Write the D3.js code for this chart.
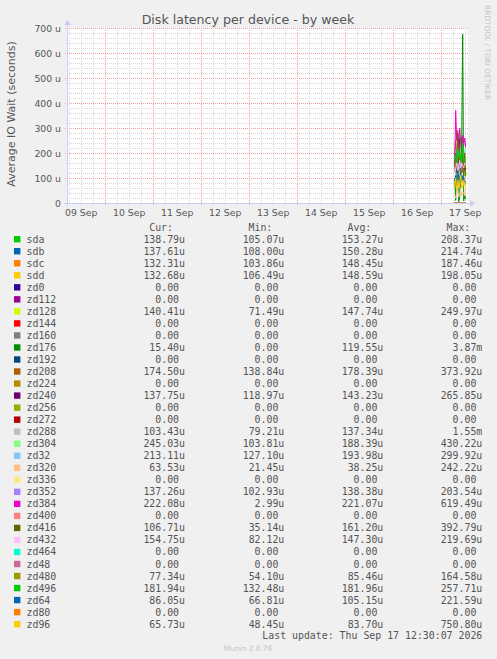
<!doctype html>
<html>
<head>
<meta charset="UTF-8">
<title>Disk latency per device - by week</title>
<style>
  body { margin: 0; background: #f0f0f0; }
  svg text { fill: #555; }
  .mono { font-family: "DejaVu Sans Mono", monospace; font-size: 9.9px; }
  .sans { font-family: "DejaVu Sans", sans-serif; }
</style>
<script src="https://d3js.org/d3.v7.min.js"></script>
</head>
<body>
<svg id="chart" width="497" height="659"></svg>
<script>
// device names in legend order
var devices = ["sda","sdb","sdc","sdd","zd0","zd112","zd128","zd144","zd160","zd176","zd192",
  "zd208","zd224","zd240","zd256","zd272","zd288","zd304","zd32","zd320","zd336","zd352",
  "zd384","zd400","zd416","zd432","zd464","zd48","zd480","zd496","zd64","zd80","zd96"];

// munin palette (wraps after 29)
var colours = ["#00CC00","#0066B3","#FF8000","#FFCC00","#330099","#990099","#CCFF00","#FF0000",
  "#808080","#008F00","#00487D","#B35A00","#B38F00","#6B006B","#8FB300","#B30000","#BEBEBE",
  "#80FF80","#80C9FF","#FFC080","#FFE680","#AA80FF","#EE00CC","#FF8080","#666600","#FFBFFF",
  "#00FFCC","#CC6699","#999900"];

// legend statistics as printed
var curVals = ["138.79u","137.61u","132.31u","132.68u","0.00","0.00","140.41u","0.00","0.00","15.40u","0.00",
  "174.50u","0.00","137.75u","0.00","0.00","103.43u","245.03u","213.11u","63.53u","0.00","137.26u",
  "222.08u","0.00","106.71u","154.75u","0.00","0.00","77.34u","181.94u","86.05u","0.00","65.73u"];
var minVals = ["105.07u","108.00u","103.86u","106.49u","0.00","0.00","71.49u","0.00","0.00","0.00","0.00",
  "138.84u","0.00","118.97u","0.00","0.00","79.21u","103.81u","127.10u","21.45u","0.00","102.93u",
  "2.99u","0.00","35.14u","82.12u","0.00","0.00","54.10u","132.48u","66.81u","0.00","48.45u"];
var avgVals = ["153.27u","150.28u","148.45u","148.59u","0.00","0.00","147.74u","0.00","0.00","119.55u","0.00",
  "178.39u","0.00","143.23u","0.00","0.00","137.34u","188.39u","193.98u","38.25u","0.00","138.38u",
  "221.07u","0.00","161.20u","147.30u","0.00","0.00","85.46u","181.96u","105.15u","0.00","83.70u"];
var maxVals = ["208.37u","214.74u","187.46u","198.05u","0.00","0.00","249.97u","0.00","0.00","3.87m","0.00",
  "373.92u","0.00","265.85u","0.00","0.00","1.55m","430.22u","299.92u","242.22u","0.00","203.54u",
  "619.49u","0.00","392.79u","219.69u","0.00","0.00","164.58u","257.71u","221.59u","0.00","750.80u"];

// plotted 30-minute samples on 17 Sep, 07:00 .. 12:30 (microseconds)
var sampleHours = [7,7.5,8,8.5,9,9.5,10,10.5,11,11.5,12,12.5];
var series = {
  sda:   [150,180,120,200,160,140,130,170,190,150,110,138.79],
  sdb:   [140,120,160,190,150,130,170,140,200,120,160,137.61],
  sdc:   [130,150,110,170,140,180,120,160,150,130,140,132.31],
  sdd:   [140,170,120,150,190,130,160,120,150,140,170,132.68],
  zd128: [120,200,90,160,240,130,110,180,150,100,140,140.41],
  zd176: [100,10,200,150,5,20,180,250,675,8,30,15.40],
  zd208: [190,250,170,290,200,160,180,240,150,200,170,174.50],
  zd240: [150,130,200,140,170,260,130,120,140,150,130,137.75],
  zd288: [110,100,160,130,90,200,120,150,140,110,95,103.43],
  zd304: [180,200,150,220,190,170,230,160,210,180,200,245.03],
  zd32:  [190,210,170,230,180,200,250,190,220,170,200,213.11],
  zd320: [30,20,40,60,25,35,50,30,45,40,30,63.53],
  zd352: [140,120,160,110,150,130,120,140,150,130,125,137.26],
  zd384: [160,370,250,280,210,300,240,200,270,230,260,222.08],
  zd416: [150,200,120,280,240,180,100,260,140,110,200,106.71],
  zd432: [120,140,160,130,150,170,140,160,150,140,160,154.75],
  zd480: [80,60,100,70,90,110,60,80,100,70,90,77.34],
  zd496: [170,190,160,220,180,200,170,190,240,160,180,181.94],
  zd64:  [90,110,70,130,100,80,120,90,110,100,80,86.05],
  zd96:  [70,100,50,90,60,80,110,70,60,90,80,65.73]
};
var yTicks = [0,100,200,300,400,500,600,700];
var dayLabels = ["09 Sep","10 Sep","11 Sep","12 Sep","13 Sep","14 Sep","15 Sep","16 Sep","17 Sep"];

var svg = d3.select("#chart");
var plotL = 67, plotR = 467, plotT = 28, plotB = 203;

var x = d3.scaleTime()
  .domain([new Date(2026,8,9,5,9), new Date(2026,8,17,13,9)])
  .range([plotL, plotR]);
var y = d3.scaleLinear().domain([0,700]).range([plotB, plotT]);

// canvas
svg.append("rect").attr("x", plotL).attr("y", plotT)
  .attr("width", plotR - plotL + 1).attr("height", plotB - plotT).attr("fill", "#fff");

// minor grid
var gGrid = svg.append("g");
d3.range(0, 701, 20).forEach(function(v) {
  if (v % 100 === 0) return;
  gGrid.append("line").attr("x1", plotL).attr("x2", plotR + 1)
    .attr("y1", Math.round(y(v)) + 0.5).attr("y2", Math.round(y(v)) + 0.5)
    .attr("stroke", "#d8d8d8").attr("stroke-dasharray", "1,1");
});
d3.timeHour.every(6).range(x.domain()[0], x.domain()[1]).forEach(function(t) {
  if (t.getHours() === 0) return;
  var px = Math.round(x(t)) + 0.5;
  gGrid.append("line").attr("x1", px).attr("x2", px)
    .attr("y1", plotT).attr("y2", plotB)
    .attr("stroke", "#d8d8d8").attr("stroke-dasharray", "1,1");
});
// major grid
yTicks.forEach(function(v) {
  gGrid.append("line").attr("x1", plotL - 2).attr("x2", plotR + 1)
    .attr("y1", Math.round(y(v)) + 0.5).attr("y2", Math.round(y(v)) + 0.5)
    .attr("stroke", "#f0a0a0").attr("stroke-dasharray", "1,1");
});
d3.timeDay.range(x.domain()[0], x.domain()[1]).forEach(function(t) {
  var px = Math.round(x(t)) + 0.5;
  gGrid.append("line").attr("x1", px).attr("x2", px)
    .attr("y1", plotT).attr("y2", plotB + 2)
    .attr("stroke", "#f0a0a0").attr("stroke-dasharray", "1,1");
});

// y axis labels
var yAxis = d3.axisLeft(y).tickValues(yTicks).tickSize(0).tickPadding(6)
  .tickFormat(function(d) { return d === 0 ? "0" : d + " u"; });
var gy = svg.append("g").attr("transform", "translate(" + plotL + ",0.5)").call(yAxis);
gy.select(".domain").remove();
gy.selectAll("text").attr("class", "sans").style("font-size", "9.3px").attr("fill", "#555");

// x axis labels at noon
var noons = dayLabels.map(function(l, i) { return new Date(2026, 8, 9 + i, 12, 0); });
var xAxis = d3.axisBottom(x).tickValues(noons).tickSize(0).tickPadding(6)
  .tickFormat(function(d, i) { return dayLabels[i]; });
var gx = svg.append("g").attr("transform", "translate(0," + plotB + ")").call(xAxis);
gx.select(".domain").remove();
gx.selectAll("text").attr("class", "sans").style("font-size", "9.3px").attr("fill", "#555");

// data lines
var line = d3.line()
  .x(function(d) { return x(new Date(2026, 8, 17, Math.floor(d[0]), (d[0] % 1) * 60)); })
  .y(function(d) { return y(d[1]); });
devices.forEach(function(name, i) {
  var vals = series[name] || sampleHours.map(function() { return 0; });
  var pts = sampleHours.map(function(h, k) { return [h, vals[k]]; });
  svg.append("path").attr("d", line(pts))
    .attr("fill", "none").attr("stroke", colours[i % colours.length]).attr("stroke-width", 1);
});

// axes lines and arrows
var axisCol = "#c8cff4";
svg.append("line").attr("x1", plotL - 3).attr("x2", plotR + 4)
  .attr("y1", plotB + 0.5).attr("y2", plotB + 0.5).attr("stroke", axisCol);
svg.append("line").attr("x1", plotL + 0.5).attr("x2", plotL + 0.5)
  .attr("y1", plotB + 3).attr("y2", plotT - 4).attr("stroke", axisCol);
svg.append("path").attr("d", "M" + (plotR + 3) + "," + (plotB - 3) + "L" + (plotR + 8) + "," + (plotB + 0.5) + "L" + (plotR + 3) + "," + (plotB + 4) + "Z")
  .attr("fill", axisCol);
svg.append("path").attr("d", "M" + (plotL - 3) + "," + (plotT - 3) + "L" + (plotL + 0.5) + "," + (plotT - 8) + "L" + (plotL + 4) + "," + (plotT - 3) + "Z")
  .attr("fill", axisCol);

// title and side labels
svg.append("text").attr("class", "sans").attr("x", 248).attr("y", 23.5)
  .attr("text-anchor", "middle").style("font-size", "12.6px").text("Disk latency per device - by week");
svg.append("text").attr("class", "sans")
  .attr("transform", "translate(14.5,114) rotate(-90)")
  .attr("text-anchor", "middle").style("font-size", "11px").text("Average IO Wait (seconds)");
svg.append("text").attr("class", "sans")
  .attr("transform", "translate(485,5) rotate(90)")
  .style("font-size", "7.4px").style("fill", "#c4c4c4").text("RRDTOOL / TOBI OETIKER");

// legend
var cols = [185, 284.3, 383.3, 482.3];
var heads = ["Cur:","Min:","Avg:","Max:"];
heads.forEach(function(h, j) {
  svg.append("text").attr("class", "mono").attr("x", cols[j] - 12).attr("y", 231.2)
    .attr("text-anchor", "end").text(h);
});
function pad(s) { return /[um]$/.test(s) ? s : s + "\u00a0"; }
devices.forEach(function(name, i) {
  var cy = 239.2 + 12.03 * i;
  svg.append("rect").attr("x", 14).attr("y", cy - 3.2).attr("width", 6.4).attr("height", 6.4)
    .attr("fill", colours[i % colours.length]);
  svg.append("text").attr("class", "mono").attr("x", 26.5).attr("y", cy + 3.5).text(name);
  [curVals, minVals, avgVals, maxVals].forEach(function(arr, j) {
    svg.append("text").attr("class", "mono").attr("x", cols[j]).attr("y", cy + 3.5)
      .attr("text-anchor", "end").text(pad(arr[i]));
  });
});
svg.append("text").attr("class", "mono").attr("x", 482.3).attr("y", 639.2)
  .attr("text-anchor", "end").text("Last update: Thu Sep 17 12:30:07 2026");
svg.append("text").attr("class", "sans").attr("x", 248).attr("y", 650.5)
  .attr("text-anchor", "middle").style("font-size", "7.4px").style("fill", "#c4c4c4").text("Munin 2.0.76");
</script>
</body>
</html>
